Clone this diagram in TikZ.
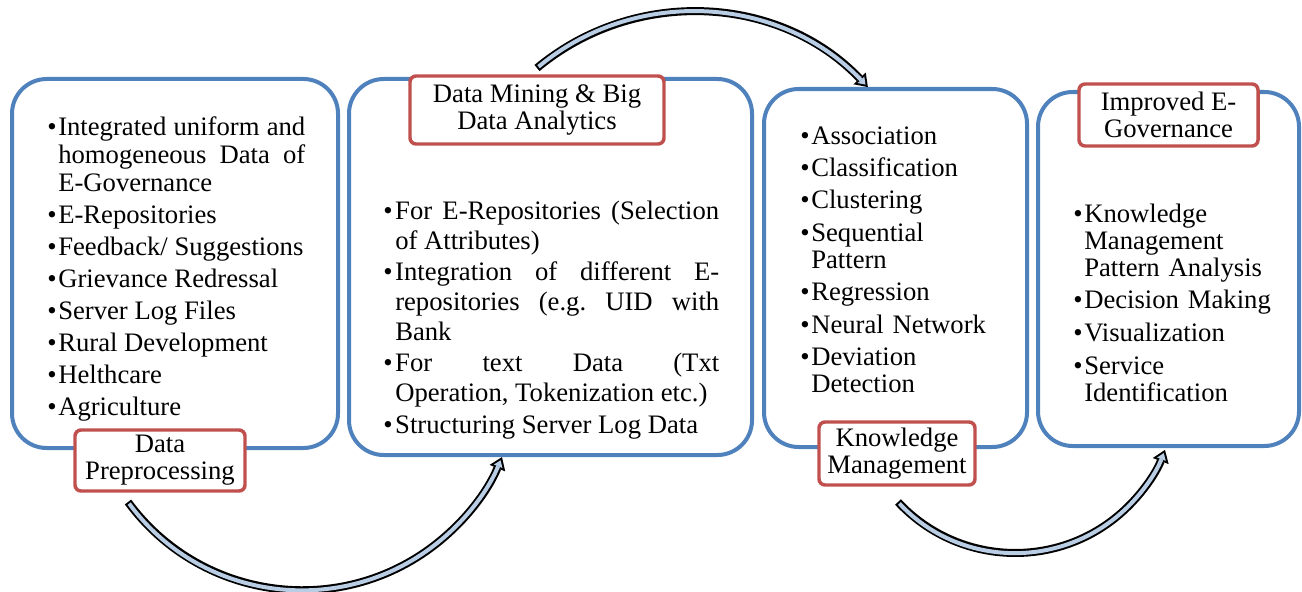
\documentclass[tikz,border=0pt]{standalone}
\usepackage{fontspec}
\setmainfont{Liberation Serif}
\usetikzlibrary{arrows.meta}
\definecolor{boxblue}{RGB}{79,129,189}
\definecolor{labred}{RGB}{192,80,77}
\definecolor{arrowfill}{RGB}{185,205,229}
\hyphenpenalty=10000
\exhyphenpenalty=10000
\hbadness=10000
\hfuzz=20pt
\frenchspacing
\newlength\bulw
\newcommand\itm[1]{\hangindent=\bulw\hangafter=1 \leavevmode\hbox to\bulw{\textbullet\hfil}#1\par}
\newcommand\fatarc[4]{%
  \draw[arrowout] (#1) arc[start angle=#2, end angle=#3, radius=#4];
  \draw[arrowin] (#1) arc[start angle=#2, end angle=#3, radius=#4];}
\begin{document}
\begin{tikzpicture}[x=0.75pt,y=-0.75pt,
  bluebox/.style={draw=boxblue, line width=3pt, rounded corners=26pt, inner sep=0pt},
  labbox/.style={draw=labred, line width=2.6pt, rounded corners=4.5pt, fill=white, inner sep=0pt, align=center, font=\fontsize{20}{20.25}\selectfont},
  itemtext/.style={anchor=base west, inner sep=0pt},
  arrowout/.style={line width=6pt, black, -{Triangle[length=9pt, width=12.75pt, line width=0pt]}},
  arrowin/.style={line width=3pt, arrowfill, shorten <=1.5pt, shorten >=2.6pt, -{Triangle[length=4.9pt, width=6.9pt, line width=0pt]}},
]
\useasboundingbox (0,0) rectangle (1302,592);

% blue boxes
\node[bluebox, minimum width=244.5pt, minimum height=276.75pt] (b1) at (175,263.5) {};
\node[bluebox, minimum width=302.25pt, minimum height=282pt] (b2) at (550.5,267) {};
\node[bluebox, minimum width=197.25pt, minimum height=268.5pt] (b3) at (895.5,268) {};
\node[bluebox, minimum width=195.75pt, minimum height=265.5pt] (b4) at (1168.5,269) {};

% red labels
\node[labbox, minimum width=127.5pt, minimum height=45.75pt] (l1) at (160,460.5) {Data\\Preprocessing};
\node[labbox, minimum width=190.5pt, minimum height=51pt] (l2) at (537,110) {Data Mining \& Big\\Data Analytics};
\node[labbox, minimum width=117pt, minimum height=47.25pt] (l3) at (897,453.5) {Knowledge\\Management};
\node[labbox, minimum width=134.25pt, minimum height=46.5pt] (l4) at (1168.5,115) {Improved E-\\Governance};

% item texts
\node[itemtext, text width=193.5pt, align=justify, font=\fontsize{20}{21}\selectfont] (t1) at (47,135) {\setlength\parskip{3pt}\setlength\bulw{8.25pt}\itm{Integrated~uniform~and\linebreak homogeneous~Data~of\linebreak E-Governance}%
\itm{E-Repositories}
\itm{Feedback/~Suggestions}
\itm{Grievance~Redressal}
\itm{Server~Log~Files}
\itm{Rural~Development}
\itm{Helthcare}
\itm{Agriculture}};

\node[itemtext, text width=252pt, align=justify, font=\fontsize{20}{22.5}\selectfont] (t2) at (383,219) {\setlength\parskip{1.1pt}\setlength\bulw{9pt}\itm{For~E-Repositories~(Selection\linebreak of~Attributes)}%
\itm{Integration~of~different~E-\linebreak repositories~(e.g.~UID~with\linebreak Bank}
\itm{For~text~Data~(Txt\linebreak Operation,~Tokenization~etc.)}
\itm{Structuring~Server~Log~Data}};

\node[itemtext, text width=165pt, align=left, font=\fontsize{20}{20.25}\selectfont] (t3) at (800,144) {\setlength\parskip{4.1pt}\setlength\bulw{8.25pt}\itm{Association}%
\itm{Classification}
\itm{Clustering}
\itm{Sequential\newline Pattern}
\itm{Regression}
\itm{Neural~Network}
\itm{Deviation\newline Detection}};

\node[itemtext, text width=160pt, align=left, font=\fontsize{20}{20.4}\selectfont] (t4) at (1073,222) {\setlength\parskip{4pt}\setlength\bulw{8.25pt}\itm{Knowledge\newline Management\newline Pattern~Analysis}%
\itm{Decision~Making}
\itm{Visualization}
\itm{Service\newline Identification}};

% curved arrows
\coordinate (a1s) at (128,502);
\coordinate (a2s) at (537,68);
\coordinate (a3s) at (898,502);
\fatarc{a1s}{143.7}{22.6}{216.3}
\fatarc{a2s}{-129.7}{-43.7}{243}
\fatarc{a3s}{137}{20.9}{160.3}
\end{tikzpicture}
\end{document}
